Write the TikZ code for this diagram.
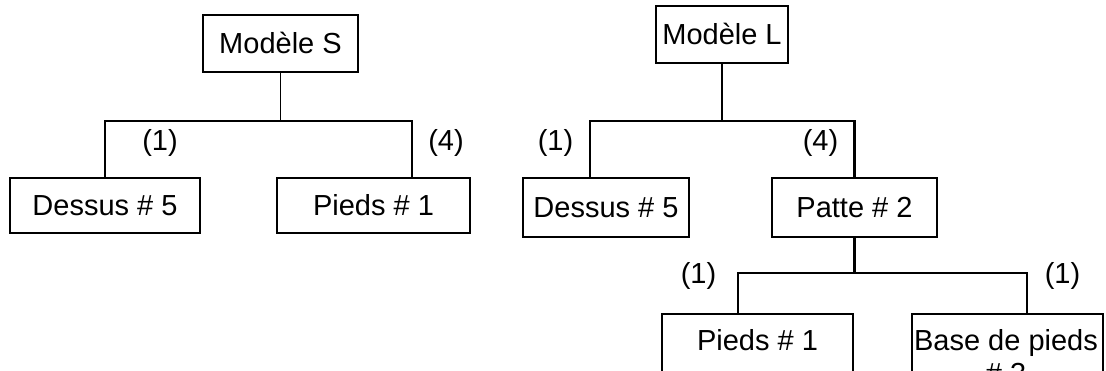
\documentclass[tikz,border=0pt]{standalone}
\usepackage{fontspec}
\setmainfont{Liberation Sans}
\begin{document}
\begin{tikzpicture}[x=1pt,y=-1pt,
  font=\fontsize{29}{33}\selectfont,
  box/.style={draw=black, line width=2pt, fill=white, inner sep=0pt, text height=20.8pt, text depth=0pt},
  stem/.style={line width=1.7pt},
  branch/.style={line width=2.6pt},
  lbl/.style={inner sep=0pt, anchor=base}]
\useasboundingbox (0,0) rectangle (1106,370);
\clip (0,0) rectangle (1106,370);
\fill[white] (0,0) rectangle (1106,370);

% left tree
\node[box, minimum width=155pt, minimum height=57pt] (mS) at (280.5,43.5) {Modèle S};
\node[box, minimum width=190pt, minimum height=55pt] (dS) at (105,205.5) {Dessus \# 5};
\node[box, minimum width=193pt, minimum height=55pt] (pS) at (373.5,205.5) {Pieds \# 1};
\coordinate (jS) at (280.5,121);
\draw[stem] (mS.south) -- (jS);
\draw[branch] (dS.north) |- (jS) -| ([xshift=38.5pt]pS.north);
\node[lbl] (lS1) at (160,150) {(1)};
\node[lbl] (lS4) at (446,150) {(4)};

% right tree
\node[box, minimum width=132pt, minimum height=57pt] (mL) at (722,34.5) {Modèle L};
\node[box, minimum width=166pt, minimum height=59pt] (dL) at (606,207.5) {Dessus \# 5};
\node[box, minimum width=165pt, minimum height=59pt] (pL) at (854.5,207.5) {Patte \# 2};
\coordinate (jL) at (722,121);
\draw[stem] (mL.south) -- (jL);
\draw[branch] ([xshift=-16pt]dL.north) |- (jL) -| (pL.north);
\node[lbl] (lL1) at (555.5,150) {(1)};
\node[lbl] (lL4) at (820.5,150) {(4)};

% lower subtree
\node[box, minimum width=191pt, minimum height=90pt, anchor=north, text height=0pt] (pB) at (757.5,313) {};
\node[box, minimum width=191pt, minimum height=90pt, anchor=north, text height=0pt] (bB) at (1007.5,313) {};
\node[lbl] (pBt) at (757.5,350) {Pieds \# 1};
\node[lbl] (bBt1) at (1006,350) {Base de pieds};
\node[lbl] (bBt2) at (1006,383) {\# 3};
\coordinate (jP) at (pL.south |- 0,273);
\draw[branch] (pL.south) -- (jP);
\draw[branch] ([xshift=-19.5pt]pB.north) |- (jP) -| ([xshift=19.5pt]bB.north);
\node[lbl] (lP1) at (698.5,283) {(1)};
\node[lbl] (lP2) at (1062.5,283) {(1)};
\end{tikzpicture}
\end{document}
